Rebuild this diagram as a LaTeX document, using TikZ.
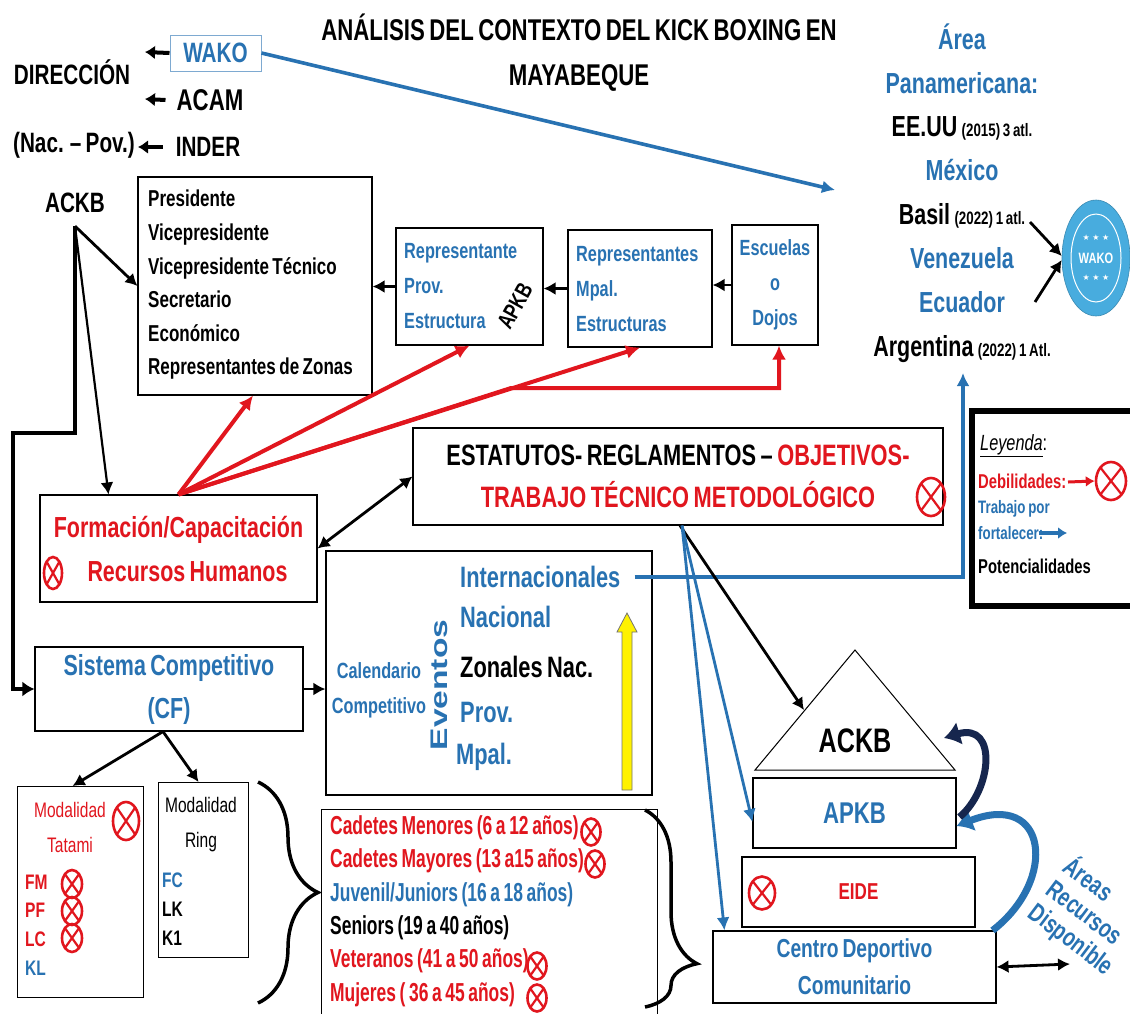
\documentclass[tikz,border=0pt]{standalone}
\usepackage{fontspec}
\setmainfont{Liberation Sans}[FakeStretch=0.74, WordSpace=0.74]
\newfontfamily\tightfont{Liberation Sans}[FakeStretch=0.67, WordSpace=0.75]
\newfontfamily\widefont{Liberation Sans}[FakeStretch=1.4]
\newfontfamily\symfont{DejaVu Sans}
\usetikzlibrary{arrows.meta,shapes.geometric,decorations.pathreplacing}

\definecolor{wblue}{RGB}{40,114,178}
\definecolor{wred}{RGB}{225,22,30}
\definecolor{wnavy}{RGB}{22,38,78}
\definecolor{wlogo}{RGB}{72,172,222}

\newcommand\fsz[2]{\fontsize{#1}{#2}\selectfont}

\tikzset{
  box/.style={draw, line width=1.1pt, inner sep=0pt, font={\bfseries\fsz{28}{30}}},
  txt/.style={inner sep=0pt, font={\bfseries\fsz{28}{30}}},
  hdarrow/.style={-{Latex[length=10pt,width=14pt]}, line width=4pt},
  blk/.style={-{Latex[length=12pt,width=13pt]}, line width=2.8pt},
  redarr/.style={-{Latex[length=14pt,width=14pt]}, line width=4pt, wred},
  bluearr/.style={-{Latex[length=13pt,width=13pt]}, line width=2.8pt, wblue},
  bad/.style={ellipse, draw=wred, line width=2.6pt, inner sep=0pt,
    path picture={\draw[wred, line width=2.2pt] (path picture bounding box.north west) -- (path picture bounding box.south east) (path picture bounding box.north east) -- (path picture bounding box.south west);}},
}

\begin{document}
\begin{tikzpicture}[x=1pt, y=-1pt]
\path[use as bounding box, fill=white] (0,0) rectangle (1130,1013);

\node[txt, align=center, font={\bfseries\fsz{30}{45}}] (title) at (579,53) {ANÁLISIS DEL CONTEXTO DEL KICK BOXING EN\\MAYABEQUE};

\node[txt] (dir) at (72,72) {DIRECCIÓN};
\node[box, draw=wblue!60, line width=1pt, text=wblue, minimum width=91, minimum height=36] (wako) at (215.5,53) {WAKO};
\node[txt, font={\bfseries\fsz{30}{32}}] (acam) at (210,100) {ACAM};
\node[txt] (nacpov) at (74,145) {(Nac. – Pov.)};
\node[txt] (inder) at (208,147) {INDER};
\node[txt, inner ysep=13pt] (ackb) at (75,203) {ACKB};
\coordinate (d1) at (145,52);
\coordinate (d2) at (145,99);
\coordinate (d3) at (138,147);
\draw[hdarrow] (wako.west) -- (d1);
\draw[hdarrow] ([xshift=-11pt]acam.west) -- (d2);
\draw[hdarrow] ([xshift=-13pt]inder.west) -- (d3);

\node[box, minimum width=234, minimum height=218] (pres) at (255,286) {};
\node[txt, anchor=west, align=left, font={\bfseries\fsz{23}{33.6}}] (prest) at (148,285) {Presidente\\Vicepresidente\\Vicepresidente Técnico\\Secretario\\Económico\\Representantes de Zonas};
\node[box, minimum width=147, minimum height=117] (prov) at (469.5,286.5) {};
\node[txt, anchor=west, align=left, text=wblue, font={\bfseries\fsz{22}{35}}] (provt) at (404,286) {Representante\\Prov.\\Estructura};
\node[txt, rotate=61, font={\bfseries\fsz{23}{25}}] (apkbr) at (515,306) {APKB};
\node[box, minimum width=144, minimum height=117] (mpal) at (640,288.5) {};
\node[txt, anchor=west, align=left, text=wblue, font={\bfseries\fsz{22}{35}}] (mpalt) at (576,289) {Representantes\\Mpal.\\Estructuras};
\node[box, minimum width=86, minimum height=120, align=center, text=wblue, font={\bfseries\fsz{22}{35}}] (esc) at (775,285) {Escuelas\\o\\Dojos};
\draw[blk] (esc.west) -- (esc.west -| mpal.east);
\draw[blk] (mpal.west) -- (mpal.west -| prov.east);
\draw[blk] (prov.west) -- (prov.west -| pres.east);

\node[txt, align=center, font={\bfseries\fsz{29}{43.9}}] (pan) at (962,193) {\textcolor{wblue}{Área}\\\textcolor{wblue}{Panamericana:}\\EE.UU {\fontsize{18}{43.9}\selectfont(2015) 3 atl.}\\\textcolor{wblue}{México}\\Basil {\fontsize{18}{43.9}\selectfont(2022) 1 atl.}\\\textcolor{wblue}{Venezuela}\\\textcolor{wblue}{Ecuador}\\Argentina {\fontsize{18}{43.9}\selectfont(2022) 1 Atl.}};
\coordinate (panin) at (835,190);
\draw[bluearr, line width=3.6pt] (wako.east) -- (panin);

\node[ellipse, fill=wlogo, draw=wlogo!80!black, line width=0.6pt, minimum width=68, minimum height=116] (logo) at (1096,258) {};
\node[ellipse, draw=white, line width=1pt, minimum width=50, minimum height=88] (logoin) at (logo.center) {};
\node[txt, text=white, font={\bfseries\fsz{15}{16}}] (logotxt) at (logo.center) {WAKO};
\node[inner sep=0pt, text=white, font={\symfont\fsz{8}{9}}] (logost1) at ([yshift=20pt]logo.center) {★ ★ ★};
\node[inner sep=0pt, text=white, font={\symfont\fsz{8}{9}}] (logost2) at ([yshift=-20pt]logo.center) {★ ★ ★};
\coordinate (bas) at (1030,222);
\coordinate (ecu) at (1035,302);
\draw[blk] (bas) -- ([yshift=2pt]logo.west);
\draw[blk] (ecu) -- ([yshift=-2pt]logo.west);

\node[box, minimum width=530, minimum height=97, align=center, font={\bfseries\fsz{29.5}{42}}] (estat) at (678,476.5) {ESTATUTOS- REGLAMENTOS – \textcolor{wred}{OBJETIVOS-}\\\textcolor{wred}{TRABAJO TÉCNICO METODOLÓGICO}};
\node[bad, minimum width=28, minimum height=38] (xestat) at (931,497) {};

\node[box, minimum width=277, minimum height=107, align=center, text=wred, font={\bfseries\fsz{29}{44}}] (form) at (178.5,548.5) {Formación/Capacitación\\\hspace*{18pt}Recursos Humanos};
\node[bad, minimum width=18, minimum height=32] (xform) at (53,573) {};

\node[box, minimum width=326, minimum height=244] (cal) at (489,673) {};
\node[txt, align=center, text=wblue, font={\bfseries\fsz{22}{35}}] (calend) at (379,690) {Calendario\\Competitivo};
\node[txt, rotate=90, text=wblue, font={\widefont\bfseries\fsz{24}{26}}] (event) at (439,685) {Eventos};
\node[txt, anchor=west, text=wblue, font={\bfseries\fsz{29.5}{30}}] (inter) at (460,577) {Internacionales};
\node[txt, anchor=west, text=wblue, font={\bfseries\fsz{29.5}{30}}] (nac) at (460,617) {Nacional};
\node[txt, anchor=west, font={\bfseries\fsz{29.5}{30}}] (zon) at (460,667) {Zonales Nac.};
\node[txt, anchor=west, text=wblue, font={\bfseries\fsz{29.5}{30}}] (provn) at (460,712) {Prov.};
\node[txt, anchor=west, text=wblue, font={\bfseries\fsz{29.5}{30}}] (mpaln) at (456,757) {Mpal.};
\draw[fill=yellow, draw=black!55, line width=0.8pt] (622,790) -- (622,632) -- (617,632) -- (627,613) -- (637,632) -- (632,632) -- (632,790) -- cycle;
\coordinate (argin) at (963,373);
\draw[bluearr, line width=3.2pt] ([xshift=14pt]inter.east) -| (argin);

\node[draw, line width=6pt, minimum width=175, minimum height=195, anchor=north west] (leg) at (969,408) {};
\node[inner sep=0pt, anchor=west, font={\fsz{22}{24}}] (legt) at (980,446) {\underline{\textit{Leyenda}}:};
\node[txt, anchor=west, text=wred, font={\bfseries\fsz{20}{26}}] (deb) at (978,481) {Debilidades:};
\node[bad, minimum width=30, minimum height=38] (xleg) at (1111,481) {};
\coordinate (debs) at (1068,482);
\draw[redarr, line width=3pt, -{Latex[length=9pt,width=11pt]}] (debs) -- (xleg.west);
\node[txt, anchor=west, align=left, text=wblue, font={\bfseries\fsz{18}{26}}] (trab) at (978,520) {Trabajo por\\fortalecer:};
\coordinate (fort1) at (1039,533);
\coordinate (fort2) at (1067,533);
\draw[bluearr, line width=4pt, -{Latex[length=9pt,width=12pt]}] (fort1) -- (fort2);
\node[txt, anchor=west, font={\bfseries\fsz{20}{26}}] (pot) at (978,566) {Potencialidades};

\node[box, minimum width=268, minimum height=84, align=center, text=wblue, font={\bfseries\fsz{29}{43}}] (sist) at (169,689) {Sistema Competitivo\\(CF)};
\draw[blk] (sist.east) -- (sist.east -| cal.west);

\node[box, minimum width=126, minimum height=211, anchor=north west] (tat) at (17,786) {};
\node[inner sep=0pt, align=center, text=wred, font={\fsz{21}{35}}] (tatt) at (70,827) {Modalidad\\Tatami};
\node[bad, minimum width=26, minimum height=38] (xtat) at (126,821) {};
\node[txt, anchor=west, align=left, font={\bfseries\fsz{21}{28.7}}] (tatl) at (25,925) {\textcolor{wred}{FM}\\\textcolor{wred}{PF}\\\textcolor{wred}{LC}\\\textcolor{wblue}{KL}};
\node[bad, minimum width=20, minimum height=28] (xfm) at (72,884) {};
\node[bad, minimum width=20, minimum height=28] (xpf) at (72,911) {};
\node[bad, minimum width=20, minimum height=28] (xlc) at (72,938) {};

\node[box, minimum width=90, minimum height=175, anchor=north west] (ring) at (158,782) {};
\node[inner sep=0pt, align=center, font={\fsz{21}{35}}] (ringt) at (201,825) {Modalidad\\Ring};
\node[txt, anchor=west, align=left, font={\bfseries\fsz{21}{29}}] (ringl) at (162,909) {\textcolor{wblue}{FC}\\LK\\K1};

\draw[blk] ([xshift=-6pt]sist.south) -- ([xshift=-8pt]tat.north);
\draw[blk] ([xshift=-6pt]sist.south) -- ([xshift=-5pt]ring.north);

\draw[decorate, decoration={brace, amplitude=60pt}, line width=3.5pt] (258,782) -- (258,1003);

\node[box, anchor=north west, minimum width=336, minimum height=206] (cat) at (321,809) {};
\node[txt, anchor=west, align=left, font={\tightfont\bfseries\fsz{26}{33.4}}] (catt) at (330,911) {\textcolor{wred}{Cadetes Menores (6 a 12 años)}\\\textcolor{wred}{Cadetes Mayores (13 a15 años)}\\\textcolor{wblue}{Juvenil/Juniors (16 a 18 años)}\\Seniors (19 a 40 años)\\\textcolor{wred}{Veteranos (41 a 50 años)}\\\textcolor{wred}{Mujeres ( 36 a 45 años)}};
\node[bad, minimum width=19, minimum height=27] (xc1) at (591,832) {};
\node[bad, minimum width=19, minimum height=27] (xc2) at (595,864) {};
\node[bad, minimum width=19, minimum height=27] (xc5) at (537,966) {};
\node[bad, minimum width=19, minimum height=27] (xc6) at (537,998) {};
\draw[decorate, decoration={brace, amplitude=52pt, aspect=0.78}, line width=3.5pt] (645,810) -- (645,1007);

\draw[line width=1pt] (755,770) -- (855,650) -- (955,770) -- cycle;
\node[txt, font={\bfseries\fsz{34}{36}}] (ackbp) at (855,741) {ACKB};
\coordinate (trileft) at (804,710);
\coordinate (triright) at (944,738);
\node[box, minimum width=203, minimum height=70, text=wblue, font={\bfseries\fsz{30}{32}}] (apkb) at (854.5,813) {APKB};
\node[box, minimum width=233, minimum height=70, text=wred, font={\bfseries\fsz{23}{25}}] (eide) at (858.5,892) {EIDE};
\node[bad, minimum width=26, minimum height=33] (xeide) at (762,893) {};
\node[box, minimum width=283, minimum height=72, align=center, text=wblue, font={\bfseries\fsz{26}{37}}] (centro) at (854.5,967) {Centro Deportivo\\Comunitario};

\draw[blk] ([xshift=2pt]estat.south) -- (trileft);
\draw[bluearr] ([xshift=4pt]estat.south) -- ([yshift=-9pt]apkb.west);
\draw[bluearr] ([xshift=4pt]estat.south) -- ([xshift=12pt]centro.north west);

\node[txt, rotate=-37, align=left, text=wblue, font={\bfseries\fsz{26}{29}}] (areas) at (1089,916) {Áreas\\Recursos\\Disponible};
\coordinate (areain) at (1070,964);
\draw[blk, {Latex[length=12pt,width=13pt]}-{Latex[length=12pt,width=13pt]}] (centro.east) -- (areain);

\draw[wblue, line width=7pt, -{Latex[length=16pt,width=24pt]}] ([xshift=-4pt]centro.north east) .. controls (1058,880) and (1048,790) .. ([yshift=-13pt]apkb.east);
\draw[wnavy, line width=7pt, -{Latex[length=16pt,width=24pt]}] ([xshift=3pt,yshift=-4pt]apkb.east) .. controls (992,790) and (998,722) .. (triright);

\draw[redarr] (form.north) -- ([xshift=-2pt]pres.south);
\draw[redarr] (form.north) -- (prov.south);
\draw[redarr] (form.north) -- (mpal.south);
\coordinate (redbend) at (511,388);
\draw[redarr] (form.north) -- (redbend) -| ([xshift=4pt]esc.south);

\draw[line width=4.5pt, -{Latex[length=12pt,width=15pt]}] (ackb.south) |- (13,433) |- (sist.west);
\draw[blk] (ackb.south) -- (pres.west);
\draw[blk, line width=2.2pt] (ackb.south) -- ([xshift=-70pt]form.north);
\draw[blk, {Latex[length=12pt,width=13pt]}-{Latex[length=12pt,width=13pt]}] (form.east) -- (estat.west);
\end{tikzpicture}
\end{document}
